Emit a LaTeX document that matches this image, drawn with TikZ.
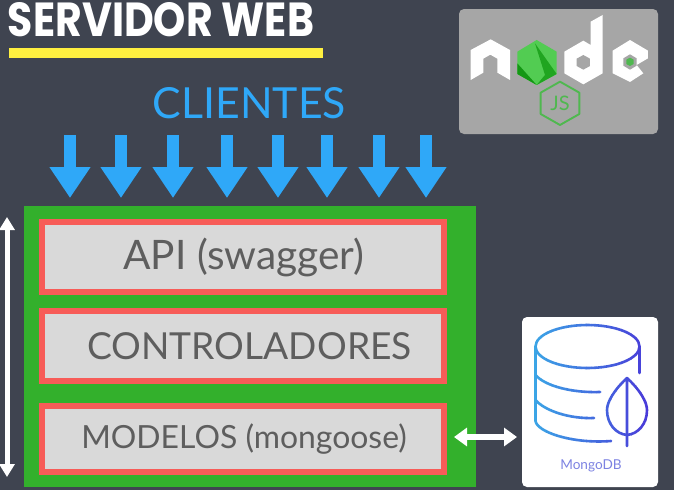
\documentclass[tikz,border=0pt]{standalone}
\usepackage{fontspec}
\setmainfont{Lato}
\newfontfamily\titlefont{Poppins}[UprightFont=* Bold]
\usetikzlibrary{arrows.meta}
\definecolor{bgc}{HTML}{3F4450}
\definecolor{skyc}{HTML}{2FA8F8}
\definecolor{greenc}{HTML}{33B02C}
\definecolor{redc}{HTML}{F75C58}
\definecolor{grayc}{HTML}{D9D9D9}
\definecolor{textc}{HTML}{5E5E5E}
\definecolor{cardc}{HTML}{A6A6A6}
\definecolor{yellowc}{HTML}{FFF040}
\definecolor{nodeg}{HTML}{4FB84F}
\definecolor{mongoa}{HTML}{3BA6E6}
\definecolor{mongob}{HTML}{4A35D8}
\definecolor{mongot}{HTML}{7C82E2}
\tikzset{
 layerbox/.style={draw=redc,line width=6.5pt,fill=grayc,minimum width=402pt,minimum height=70pt,inner sep=0pt,outer sep=0pt,text=textc},
 clientarrow/.style={draw=skyc,line width=12pt,-{Triangle[width=39pt,length=31pt]}},
 spanarrow/.style={draw=white,line width=5pt,{Triangle[width=15pt,length=13pt]}-{Triangle[width=15pt,length=13pt]}},
 linkarrow/.style={draw=white,line width=6pt,{Triangle[width=18pt,length=13pt]}-{Triangle[width=18pt,length=13pt]}},
 mstroke/.style={line width=2.6pt,line cap=round,line join=round,fill=none},
 logowhite/.style={fill=white,draw=none},
}
\newcommand{\mongopaths}[1]{%
 \draw[mstroke,draw=#1] (587.5,346.5) ellipse [x radius=52,y radius=21.5];
 \draw[mstroke,draw=#1] (639.5,346.5) -- (639.5,373);
 \draw[mstroke,draw=#1] (535.5,346.5) -- (535.5,421) .. controls (537,432) and (572,444) .. (611,441);
 \draw[mstroke,draw=#1] (535.5,375) .. controls (545,386) and (572,393) .. (600,392);
 \draw[mstroke,draw=#1] (535.5,400) .. controls (545,411) and (570,419) .. (594,418);
 \draw[mstroke,draw=#1] (627,378) .. controls (640,390) and (647,402) .. (647,410) .. controls (647,424) and (638,434) .. (627,435) .. controls (616,434) and (607,424) .. (607,410) .. controls (607,402) and (614,390) .. (627,378) -- (627,446);
}
\begin{document}
\begin{tikzpicture}[x=1pt,y=-1pt]
\useasboundingbox (0,0) rectangle (674,490);
\fill[bgc] (0,0) rectangle (674,490);

% title
\node (title) [text=white,inner sep=0pt] at (161,19.5) {\resizebox{306pt}{34pt}{\titlefont SERVIDOR WEB}};
\node (titlebar) [fill=yellowc,minimum width=314pt,minimum height=10pt,inner sep=0pt] at (166,53) {};

% clients
\node (clientes) [text=skyc,inner sep=0pt,font=\fontsize{42.8}{43}\selectfont] at (249.5,103) {CLIENTES};
\foreach \i/\x in {1/70,2/121,3/173,4/227,5/278,6/327,7/379,8/426}{
  \coordinate (ca\i) at (\x,135);
  \coordinate (cb\i) at (\x,198);
  \draw[clientarrow] (ca\i) -- (cb\i);
}

% server block
\node (server) [fill=greenc,minimum width=452pt,minimum height=281pt,inner sep=0pt] at (250,346.5) {};
\node (api) [layerbox,font=\fontsize{40.6}{41}\selectfont] at (243,257) {\hspace*{2pt}API (swagger)};
\node (ctrl) [layerbox,font=\fontsize{37.2}{38}\selectfont] at (243,346) {\hspace*{13pt}CONTROLADORES};
\node (model) [layerbox,minimum height=66pt,font=\fontsize{31.9}{32}\selectfont] at (243,439) {\hspace*{2pt}MODELOS (mongoose)};

% left span arrow
\coordinate (spanTop) at (7,217);
\coordinate (spanBot) at (7,477);
\draw[spanarrow] (spanTop) -- (spanBot);

% mongo card
\node (mongo) [fill=white,rounded corners=5pt,minimum width=136pt,minimum height=170pt,inner sep=0pt] at (590,402) {};
\foreach \k in {0,...,24}{
  \pgfmathsetmacro{\mx}{100-\k*100/24}
  \colorlet{mstrip}{mongoa!\mx!mongob}
  \begin{scope}
    \clip (531+\k*5,320) rectangle (536.3+\k*5,450);
    \mongopaths{mstrip}
  \end{scope}
}
\node (mongolabel) [text=mongot,inner sep=0pt,font=\fontsize{13.6}{14}\selectfont] at (591,466) {MongoDB};
\coordinate (linkL) at (454,437);
\coordinate (linkR) at (517,437);
\draw[linkarrow] (linkL) -- (linkR);

% node card
\node (nodecard) [fill=cardc,rounded corners=5pt,minimum width=199pt,minimum height=125pt,inner sep=0pt] at (558.5,71.5) {};
\begin{scope}[shift={(450,0)},x=0.3333pt,y=-0.3333pt]
  % n
  \fill[logowhite] (62,150) -- (122,118) -- (180,150) -- (180,240) -- (142,218) -- (142,176) -- (121,164) -- (100,176) -- (100,218) -- (62,240) -- cycle;
  % o
  \fill[nodeg!80!green!90!white] (260,120) -- (320,155) -- (320,222) -- (260,255) -- (202,222) -- (202,155) -- cycle;
  \fill[green!55!black!75!nodeg] (202,190) -- (260,255) -- (202,222) -- cycle;
  \fill[green!60!black!60!nodeg] (255,130) -- (320,222) -- (260,255) -- (285,225) -- cycle;
  % d
  \fill[logowhite] (458,45) -- (458,220) -- (400,253) -- (343,220) -- (343,155) -- (400,122) -- (422,135) -- (422,65) -- cycle;
  \fill[cardc] (400,165) -- (420,176) -- (420,198) -- (400,209) -- (380,198) -- (380,176) -- cycle;
  % e
  \fill[logowhite] (540,120) -- (594,152) -- (594,175) -- (560,195) -- (580,220) -- (540,246) -- (488,220) -- (488,152) -- cycle;
  \fill[cardc] (540,163) -- (560,175) -- (560,197) -- (540,209) -- (520,197) -- (520,175) -- cycle;
  \fill[nodeg] (540,173) -- (551,179) -- (551,192) -- (540,198) -- (529,192) -- (529,179) -- cycle;
  % js
  \draw[nodeg,line width=1.9pt,line join=round] (330,245) -- (388,278) -- (388,342) -- (330,375) -- (272,342) -- (272,278) -- cycle;
\end{scope}
\node (js) [text=nodeg,inner sep=0pt,font=\fontsize{20}{20}\selectfont] at (560,103) {JS};
\end{tikzpicture}
\end{document}
